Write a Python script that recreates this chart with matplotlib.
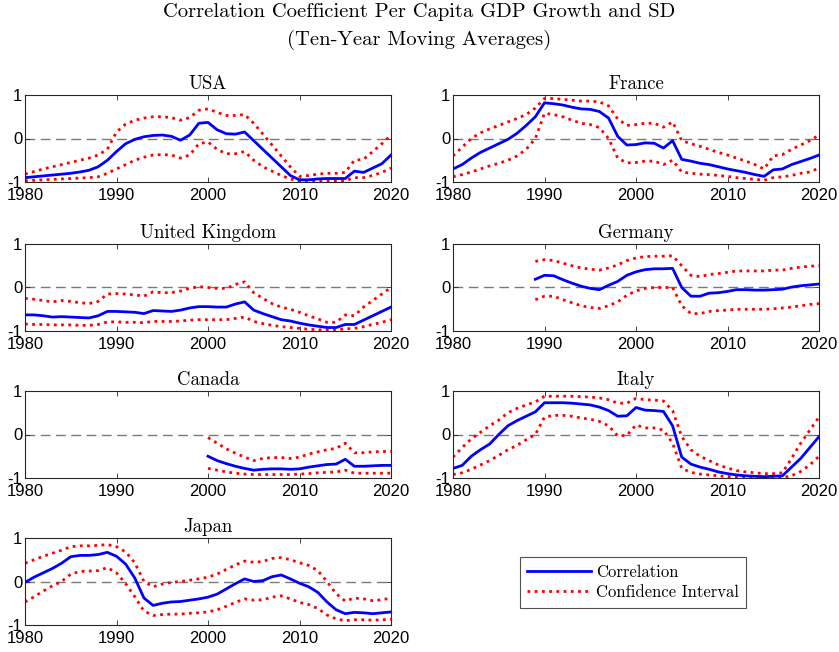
import numpy as np
import matplotlib
matplotlib.use("Agg")
import matplotlib.pyplot as plt
from matplotlib.lines import Line2D

# ---------------- data ----------------
countries = ["USA", "France", "United Kingdom", "Germany", "Canada", "Italy", "Japan"]
start_years = [1980, 1980, 1980, 1989, 2000, 1980, 1980]

usa_corr = [-0.9, -0.88, -0.86, -0.84, -0.82, -0.8, -0.77, -0.73, -0.65, -0.5,
            -0.3, -0.12, -0.02, 0.04, 0.07, 0.08, 0.05, -0.04, 0.08, 0.35,
            0.37, 0.2, 0.11, 0.1, 0.15, -0.05, -0.25, -0.45, -0.65, -0.85,
            -0.95, -0.95, -0.93, -0.92, -0.92, -0.92, -0.75, -0.78, -0.68, -0.58, -0.38]
usa_up = [-0.82, -0.76, -0.7, -0.65, -0.6, -0.55, -0.5, -0.45, -0.38, -0.25,
          0.15, 0.33, 0.42, 0.47, 0.5, 0.5, 0.48, 0.42, 0.48, 0.65,
          0.68, 0.6, 0.53, 0.53, 0.55, 0.35, 0.1, -0.15, -0.4, -0.65,
          -0.87, -0.85, -0.82, -0.8, -0.8, -0.78, -0.5, -0.48, -0.3, -0.12, 0.08]
usa_lo = [-0.97, -0.96, -0.95, -0.94, -0.93, -0.92, -0.91, -0.9, -0.88, -0.8,
          -0.7, -0.6, -0.5, -0.43, -0.38, -0.37, -0.38, -0.45, -0.38, -0.12,
          -0.08, -0.25, -0.35, -0.35, -0.3, -0.5, -0.65, -0.75, -0.85, -0.93,
          -0.98, -0.98, -0.98, -0.98, -0.98, -0.97, -0.9, -0.9, -0.85, -0.78, -0.68]

fra_corr = [-0.7, -0.6, -0.45, -0.32, -0.22, -0.12, -0.02, 0.12, 0.3, 0.5,
            0.82, 0.8, 0.77, 0.72, 0.68, 0.67, 0.62, 0.47, 0.05, -0.15,
            -0.14, -0.1, -0.11, -0.22, -0.05, -0.48, -0.52, -0.57, -0.6, -0.65,
            -0.7, -0.74, -0.78, -0.83, -0.87, -0.72, -0.7, -0.6, -0.53, -0.46, -0.38]
fra_up = [-0.4, -0.2, 0.0, 0.13, 0.22, 0.3, 0.38, 0.46, 0.55, 0.7,
          0.92, 0.92, 0.9, 0.88, 0.86, 0.86, 0.84, 0.75, 0.45, 0.3,
          0.32, 0.35, 0.35, 0.26, 0.38, -0.05, -0.12, -0.18, -0.25, -0.32,
          -0.38, -0.45, -0.52, -0.6, -0.7, -0.4, -0.37, -0.25, -0.15, -0.05, 0.08]
fra_lo = [-0.88, -0.83, -0.77, -0.7, -0.63, -0.57, -0.5, -0.4, -0.25, 0.0,
          0.58, 0.55, 0.5, 0.42, 0.35, 0.32, 0.25, 0.0, -0.45, -0.56,
          -0.55, -0.52, -0.52, -0.6, -0.5, -0.77, -0.8, -0.82, -0.83, -0.85,
          -0.87, -0.9, -0.92, -0.94, -0.96, -0.9, -0.88, -0.85, -0.8, -0.77, -0.68]

uk_corr = [-0.63, -0.63, -0.65, -0.68, -0.67, -0.68, -0.69, -0.7, -0.65, -0.55,
           -0.55, -0.56, -0.57, -0.6, -0.53, -0.54, -0.55, -0.52, -0.47, -0.44,
           -0.44, -0.45, -0.45, -0.38, -0.33, -0.52, -0.6, -0.67, -0.74, -0.77,
           -0.82, -0.86, -0.89, -0.92, -0.92, -0.85, -0.85, -0.75, -0.65, -0.55, -0.45]
uk_up = [-0.25, -0.27, -0.3, -0.33, -0.3, -0.32, -0.35, -0.37, -0.32, -0.15,
         -0.14, -0.15, -0.17, -0.2, -0.1, -0.12, -0.12, -0.08, -0.02, 0.02,
         0.0, -0.02, -0.02, 0.07, 0.13, -0.12, -0.25, -0.37, -0.45, -0.5,
         -0.57, -0.65, -0.72, -0.8, -0.8, -0.63, -0.65, -0.45, -0.3, -0.15, 0.0]
uk_lo = [-0.84, -0.85, -0.85, -0.86, -0.86, -0.86, -0.87, -0.87, -0.85, -0.79,
         -0.79, -0.8, -0.8, -0.81, -0.78, -0.78, -0.78, -0.77, -0.75, -0.74,
         -0.74, -0.74, -0.74, -0.71, -0.68, -0.78, -0.83, -0.87, -0.9, -0.92,
         -0.94, -0.96, -0.97, -0.98, -0.98, -0.95, -0.94, -0.9, -0.85, -0.8, -0.74]

ger_corr = [0.19, 0.28, 0.27, 0.18, 0.1, 0.03, -0.02, -0.05, 0.05, 0.14,
            0.28, 0.36, 0.41, 0.43, 0.43, 0.44, 0.0, -0.2, -0.2, -0.13,
            -0.12, -0.09, -0.05, -0.05, -0.06, -0.06, -0.05, -0.04, 0.01, 0.04,
            0.06, 0.08]
ger_up = [0.6, 0.64, 0.62, 0.56, 0.5, 0.45, 0.42, 0.4, 0.45, 0.52,
          0.62, 0.68, 0.71, 0.72, 0.72, 0.73, 0.5, 0.28, 0.25, 0.3,
          0.32, 0.35, 0.38, 0.38, 0.38, 0.38, 0.4, 0.4, 0.44, 0.47,
          0.49, 0.5]
ger_lo = [-0.28, -0.2, -0.2, -0.28, -0.35, -0.42, -0.46, -0.48, -0.42, -0.33,
          -0.18, -0.08, -0.02, 0.0, 0.0, 0.0, -0.42, -0.6, -0.6, -0.55,
          -0.53, -0.52, -0.5, -0.5, -0.5, -0.5, -0.49, -0.47, -0.45, -0.42,
          -0.39, -0.37]

can_corr = [-0.5, -0.6, -0.67, -0.73, -0.78, -0.82, -0.8, -0.79, -0.79, -0.8,
            -0.79, -0.75, -0.72, -0.69, -0.68, -0.57, -0.73, -0.73, -0.72, -0.71, -0.71]
can_up = [-0.07, -0.2, -0.33, -0.43, -0.52, -0.6, -0.55, -0.53, -0.53, -0.55,
          -0.52, -0.45, -0.4, -0.35, -0.32, -0.2, -0.42, -0.42, -0.4, -0.39, -0.39]
can_lo = [-0.78, -0.82, -0.86, -0.89, -0.91, -0.92, -0.92, -0.92, -0.92, -0.92,
          -0.91, -0.9, -0.88, -0.87, -0.86, -0.82, -0.89, -0.89, -0.89, -0.89, -0.89]

ita_corr = [-0.78, -0.71, -0.5, -0.35, -0.22, 0.0, 0.2, 0.32, 0.42, 0.52,
            0.73, 0.73, 0.73, 0.72, 0.7, 0.68, 0.63, 0.55, 0.42, 0.43,
            0.62, 0.56, 0.55, 0.53, 0.2, -0.52, -0.68, -0.75, -0.8, -0.86,
            -0.9, -0.93, -0.95, -0.96, -0.97, -0.96, -0.95, -0.75, -0.55, -0.3, -0.05]
ita_up = [-0.52, -0.3, -0.1, 0.05, 0.2, 0.33, 0.5, 0.6, 0.68, 0.75,
          0.88, 0.88, 0.88, 0.88, 0.87, 0.86, 0.84, 0.8, 0.72, 0.72,
          0.83, 0.8, 0.79, 0.77, 0.55, -0.05, -0.35, -0.5, -0.6, -0.7,
          -0.77, -0.83, -0.86, -0.88, -0.9, -0.9, -0.88, -0.55, -0.2, 0.1, 0.4]
ita_lo = [-0.92, -0.88, -0.8, -0.7, -0.6, -0.48, -0.35, -0.25, -0.12, 0.0,
          0.4, 0.44, 0.44, 0.42, 0.38, 0.35, 0.3, 0.2, -0.03, -0.02,
          0.22, 0.15, 0.15, 0.1, -0.2, -0.78, -0.87, -0.91, -0.93, -0.95,
          -0.97, -0.98, -0.98, -0.99, -0.99, -0.99, -0.99, -0.95, -0.85, -0.7, -0.5]

jpn_corr = [-0.02, 0.1, 0.2, 0.3, 0.42, 0.57, 0.6, 0.6, 0.62, 0.67,
            0.58, 0.4, 0.08, -0.38, -0.55, -0.5, -0.47, -0.46, -0.43, -0.4,
            -0.36, -0.29, -0.17, -0.05, 0.06, 0.0, 0.02, 0.11, 0.15, 0.06,
            -0.04, -0.12, -0.25, -0.47, -0.65, -0.74, -0.71, -0.72, -0.74, -0.72, -0.7]
jpn_up = [0.42, 0.5, 0.58, 0.65, 0.72, 0.8, 0.82, 0.82, 0.83, 0.85,
          0.8, 0.68, 0.43, 0.0, -0.12, -0.06, -0.02, 0.0, 0.03, 0.06,
          0.1, 0.17, 0.28, 0.38, 0.47, 0.44, 0.46, 0.53, 0.55, 0.5,
          0.43, 0.37, 0.25, 0.0, -0.28, -0.45, -0.38, -0.4, -0.44, -0.42, -0.38]
jpn_lo = [-0.47, -0.35, -0.22, -0.1, 0.0, 0.17, 0.23, 0.24, 0.25, 0.32,
          0.2, -0.05, -0.35, -0.68, -0.78, -0.76, -0.75, -0.75, -0.73, -0.72,
          -0.7, -0.65, -0.57, -0.48, -0.4, -0.43, -0.42, -0.36, -0.33, -0.4,
          -0.48, -0.53, -0.62, -0.77, -0.86, -0.9, -0.88, -0.88, -0.89, -0.88, -0.87]

corr_series = [usa_corr, fra_corr, uk_corr, ger_corr, can_corr, ita_corr, jpn_corr]
upper_series = [usa_up, fra_up, uk_up, ger_up, can_up, ita_up, jpn_up]
lower_series = [usa_lo, fra_lo, uk_lo, ger_lo, can_lo, ita_lo, jpn_lo]

x_ticks = [1980, 1990, 2000, 2010, 2020]
x_ticklabels = ["1980", "1990", "2000", "2010", "2020"]
y_ticks = [-1, 0, 1]
y_ticklabels = ["-1", "0", "1"]

title_text = "Correlation Coefficient Per Capita GDP Growth and SD\n(Ten-Year Moving Averages)"
legend_labels = ["Correlation", "Confidence Interval"]

# ---------------- figure ----------------
W, H = 839, 652
fig = plt.figure(figsize=(W / 100, H / 100), dpi=100)

serif = "cmr10"
sans = "Liberation Sans"

col_x = [25, 453]
ax_w = 366
row_top = [95, 244, 391, 538]
ax_h = 87

blue = "#0000FF"
red = "#FF0000"
dot = (0, (1, 1.6))

for i, name in enumerate(countries):
    r, c = divmod(i, 2)
    left = col_x[c] / W
    bottom = 1 - (row_top[r] + ax_h) / H
    ax = fig.add_axes([left, bottom, ax_w / W, ax_h / H])
    n = len(corr_series[i])
    yrs = np.arange(start_years[i], start_years[i] + n)
    ax.axhline(0, color="#7a7a7a", lw=1.0, dashes=(7, 4), zorder=1)
    ax.plot(yrs, upper_series[i], color=red, lw=2.0, linestyle=dot, zorder=2)
    ax.plot(yrs, lower_series[i], color=red, lw=2.0, linestyle=dot, zorder=2)
    ax.plot(yrs, corr_series[i], color=blue, lw=2.0, zorder=3)
    ax.set_xlim(1980, 2020)
    ax.set_ylim(-1, 1)
    ax.set_xticks(x_ticks)
    ax.set_xticklabels(x_ticklabels, fontfamily=sans, fontsize=12)
    ax.set_yticks(y_ticks)
    ax.set_yticklabels(y_ticklabels, fontfamily=sans, fontsize=12)
    ax.tick_params(direction="in", length=3.5, width=0.6, color="#262626",
                   top=True, right=True, labelcolor="black")
    ax.tick_params(axis="x", pad=4)
    ax.tick_params(axis="y", pad=2)
    for sp in ax.spines.values():
        sp.set_color("#262626")
        sp.set_linewidth(0.8)
    ax.set_title(name, fontfamily=serif, fontsize=13.5, pad=4)

fig.text(0.5, 1 - 12 / H, "Correlation Coefficient Per Capita GDP Growth and SD",
         ha="center", va="center", fontfamily=serif, fontsize=14.8)
fig.text(0.5, 1 - 40 / H, "(Ten-Year Moving Averages)",
         ha="center", va="center", fontfamily=serif, fontsize=14.8)

handles = [Line2D([0], [0], color=blue, lw=2.0),
           Line2D([0], [0], color=red, lw=2.0, linestyle=dot)]
leg = fig.legend(handles, legend_labels, loc="center",
                 bbox_to_anchor=(633 / W, 1 - 582.5 / H),
                 prop={"family": serif, "size": 12}, frameon=True, fancybox=False,
                 handlelength=3.8, handletextpad=0.3, borderpad=0.45,
                 labelspacing=0.3, borderaxespad=0)
leg.get_frame().set_edgecolor("#262626")
leg.get_frame().set_linewidth(0.8)

fig.savefig("out.png", dpi=100)
